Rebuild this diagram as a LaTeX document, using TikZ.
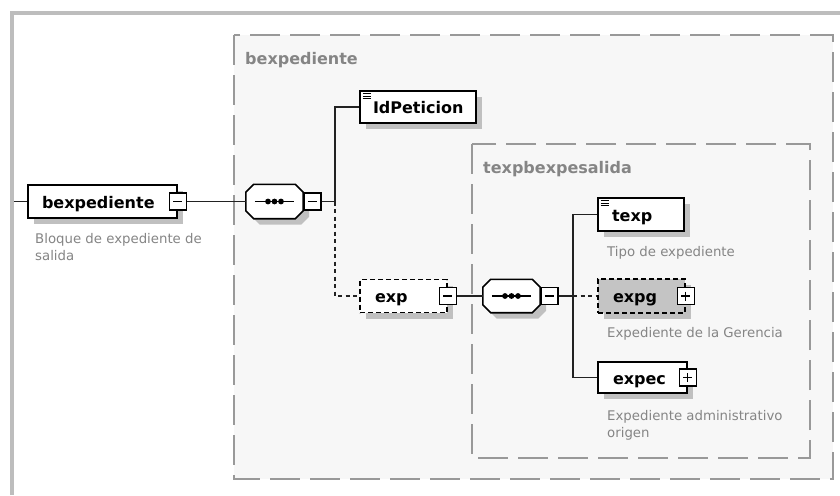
\documentclass[tikz,border=0pt]{standalone}
\usepackage{fontspec}
\setmainfont{DejaVu Sans}
\usetikzlibrary{calc,shadows}
\definecolor{framegray}{HTML}{BDBDBD}
\definecolor{boxbg}{HTML}{F7F7F7}
\definecolor{dashgray}{HTML}{999999}
\definecolor{shadowgray}{HTML}{C0C0C0}
\definecolor{txtgray}{HTML}{858585}
\definecolor{linec}{HTML}{222222}
\definecolor{optfill}{HTML}{C4C4C4}
\newcommand\octpath[3]{($(#1.north west)+(#2+8,#3)$) -- ($(#1.north east)+(#2-8,#3)$) -- ($(#1.north east)+(#2,#3+8)$) -- ($(#1.south east)+(#2,#3-8)$) -- ($(#1.south east)+(#2-8,#3)$) -- ($(#1.south west)+(#2+8,#3)$) -- ($(#1.south west)+(#2,#3-8)$) -- ($(#1.north west)+(#2,#3+8)$) -- cycle}
\newcommand\seqdraw[1]{%
  \fill[shadowgray] \octpath{#1}{6}{6};
  \draw[black, line width=1.6pt, fill=white] \octpath{#1}{0}{0};
  \draw[black, line width=1.4pt] ($(#1.west)+(9,0)$) -- ($(#1.east)+(-9,0)$);
  \fill[black] ($(#1.center)+(-6.5,0)$) circle (2.9pt) (#1.center) circle (2.9pt) ($(#1.center)+(6.5,0)$) circle (2.9pt);
}
\newcommand\attricon[1]{%
  \draw[black, line width=0.9pt] ($(#1.north west)+(3.5,3.5)$) -- +(8,0) ($(#1.north west)+(3.5,6)$) -- +(8,0) ($(#1.north west)+(3.5,8.5)$) -- +(8,0);
}
\begin{document}
\begin{tikzpicture}[x=1pt,y=-1pt,
  elem/.style={draw=black, line width=1.6pt, fill=white, rectangle, inner ysep=0pt, minimum height=33pt, align=left,
    text height=13pt, text depth=0pt,
    font=\fontsize{16}{18}\selectfont\bfseries,
    drop shadow={shadow xshift=6pt, shadow yshift=-6pt, fill=shadowgray, opacity=1}},
  optelem/.style={elem, dash pattern=on 5pt off 3pt},
  seqnode/.style={rectangle, inner sep=0pt, minimum width=57pt, minimum height=34pt},
  togminus/.style={draw=black, fill=white, line width=1.3pt, minimum size=17pt, inner sep=0pt,
    path picture={\draw[line width=1.2pt] ($(path picture bounding box.west)+(4,0)$) -- ($(path picture bounding box.east)+(-4,0)$);}},
  togplus/.style={draw=black, fill=white, line width=1.3pt, minimum size=17pt, inner sep=0pt,
    path picture={\draw[line width=1.2pt] ($(path picture bounding box.west)+(4,0)$) -- ($(path picture bounding box.east)+(-4,0)$)
      ($(path picture bounding box.north)+(0,4)$) -- ($(path picture bounding box.south)+(0,-4)$);}},
  conn/.style={draw=linec, line width=1.6pt},
  dotconn/.style={draw=linec, line width=1.6pt, dash pattern=on 4pt off 3.5pt},
  bgbox/.style={draw=dashgray, line width=1.6pt, fill=boxbg, dash pattern=on 30pt off 10pt},
  boxtitle/.style={anchor=base west, inner sep=0pt, text=txtgray, font=\fontsize{16}{18}\selectfont\bfseries},
  desc/.style={anchor=north west, inner sep=0pt, align=left, text=txtgray, font=\fontsize{13.3}{17}\selectfont}
]
\useasboundingbox (0,0) rectangle (840,495);
\fill[white] (0,0) rectangle (840,495);
\draw[framegray, line width=4pt] (11.5,495) -- (11.5,13) -- (840,13);

% container boxes
\draw[bgbox] (234,35) rectangle (833,479);
\node[boxtitle] (t1) at (245,65) {bexpediente};
\draw[bgbox] (472,144) rectangle (810,458);
\node[boxtitle] (t2) at (483,173) {texpbexpesalida};

% elements
\node[elem, minimum width=149pt, inner xsep=14pt, text width=121pt] (bex) at (102.5,201.5) {bexpediente};
\node[togminus] (bexT) at (bex.east) {};
\node[desc] (d1) at (35,233) {Bloque de expediente de\\salida};

\node[seqnode] (seq1) at (274.5,201.5) {};
\seqdraw{seq1}
\node[togminus, anchor=west] (seq1T) at (seq1.east) {};

\node[elem, minimum width=116pt, minimum height=32pt, inner xsep=13pt, text width=90pt] (idp) at (418,107) {IdPeticion};
\attricon{idp}

\node[optelem, minimum width=87pt, inner xsep=15pt, text width=57pt] (exp) at (403.5,296) {exp};
\node[togminus] (expT) at (exp.east) {};

\node[seqnode, minimum height=33pt] (seq2) at (511.5,296) {};
\seqdraw{seq2}
\node[togminus, anchor=west] (seq2T) at (seq2.east) {};

\node[elem, minimum width=86pt, inner xsep=14pt, text width=58pt] (texp) at (641,214.5) {texp};
\attricon{texp}
\node[desc] (d2) at (607,246) {Tipo de expediente};

\node[optelem, fill=optfill, minimum width=87pt, minimum height=34pt, inner xsep=15pt, text width=57pt] (expg) at (641.5,296) {expg};
\node[togplus] (expgT) at (expg.east) {};
\node[desc] (d3) at (607,327) {Expediente de la Gerencia};

\node[elem, minimum width=89pt, minimum height=31pt, inner xsep=15pt, text width=59pt] (expec) at (642.5,377.5) {expec};
\node[togplus] (expecT) at (expec.east) {};
\node[desc] (d4) at (607,410) {Expediente administrativo\\origen};

% connectors
\coordinate (lstub) at (13.5,201.5);
\coordinate (j1) at (335,201.5);
\coordinate (j2) at (573,296);
\draw[conn] (lstub) -- (bex.west);
\draw[conn] (bexT.east) -- (seq1.west);
\draw[conn] (seq1T.east) -- (j1);
\draw[conn] (idp.west) -| (j1);
\draw[dotconn] (j1) |- (exp.west);
\draw[conn] (expT.east) -- (seq2.west);
\draw[conn] (seq2T.east) -- (j2);
\draw[conn] (texp.west) -| (j2);
\draw[conn] (expec.west) -| (j2);
\draw[dotconn] (j2) -- (expg.west);
\end{tikzpicture}
\end{document}
